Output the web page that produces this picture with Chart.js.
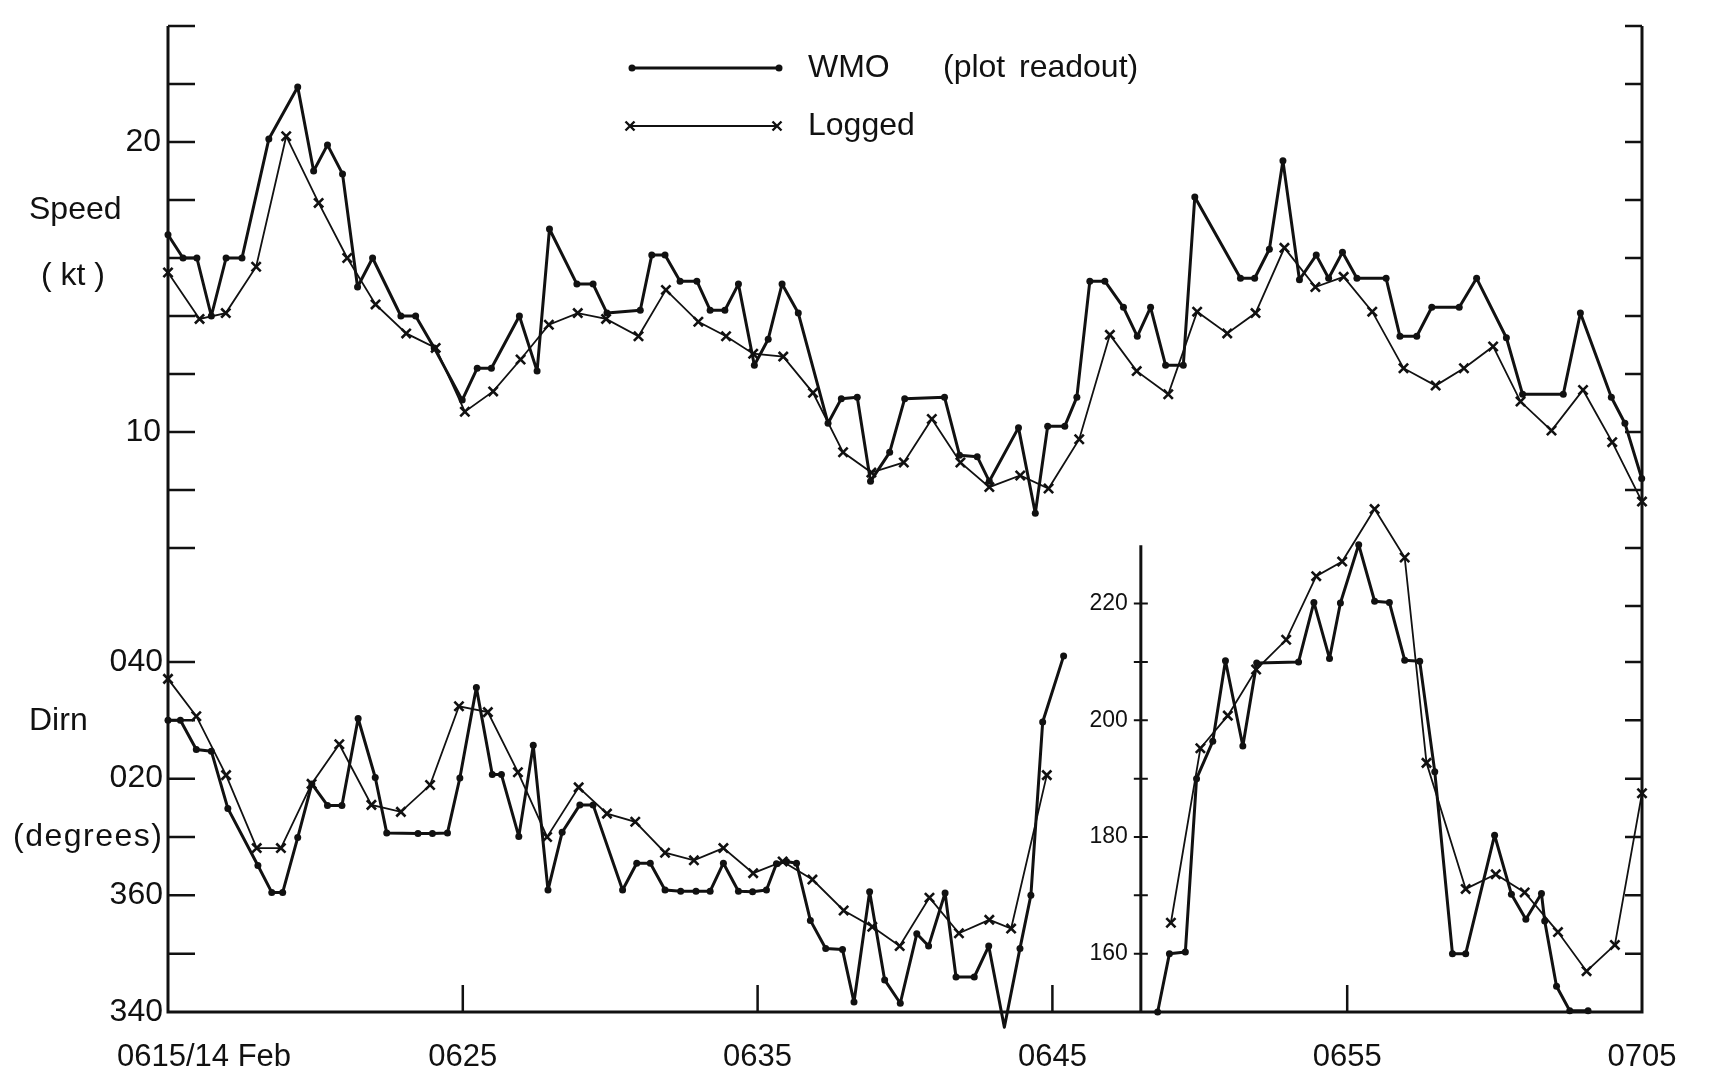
<!DOCTYPE html>
<html>
<head>
<meta charset="utf-8">
<title>Wind speed and direction, WMO readout vs logged</title>
<script src="https://cdn.jsdelivr.net/npm/chart.js@4.4.1/dist/chart.umd.min.js"></script>
<style>
  html, body { margin: 0; padding: 0; background: #fff; overflow: hidden; }
  canvas { display: block; }
</style>
</head>
<body>
<canvas id="windChart" width="1709" height="1086"></canvas>
<script>
// times are minutes after 0615 (14 Feb)
const wmoSpeedTime = [0, 0.51, 0.98, 1.47, 1.97, 2.51, 3.42, 4.4, 4.94, 5.41, 5.92, 6.43, 6.94, 7.9, 8.4, 9.03, 9.98,
  10.49, 10.97, 11.92, 12.52, 12.94, 13.87, 14.42, 14.89, 16.02, 16.41, 16.86, 17.37, 17.94, 18.39, 18.89, 19.35, 19.89,
  20.36, 20.83, 21.38, 22.39, 22.84, 23.38, 23.83, 24.48, 24.99, 26.34, 26.85, 27.45, 27.86, 28.85, 29.42, 29.84,
  30.42, 30.83, 31.27, 31.78, 32.41, 32.88, 33.33, 33.84, 34.44, 34.83, 36.38, 36.86, 37.36, 37.82, 38.38, 38.95,
  39.37, 39.84, 40.33, 41.32, 41.79, 42.36, 42.87, 43.8, 44.39, 45.4, 45.95, 47.33, 47.91, 48.96, 49.42, 49.99];
const wmoSpeed = [16.8, 16.0, 16.0, 14.0, 16.0, 16.0, 20.1, 21.9, 19.0, 19.9, 18.9, 15.0, 16.0, 14.0, 14.0, 12.9, 11.1,
  12.2, 12.2, 14.0, 12.1, 17.0, 15.1, 15.1, 14.1, 14.2, 16.1, 16.1, 15.2, 15.2, 14.2, 14.2, 15.1, 12.3,
  13.2, 15.1, 14.1, 10.3, 11.15, 11.2, 8.3, 9.3, 11.15, 11.2, 9.2, 9.15, 8.3, 10.15, 7.2, 10.2,
  10.2, 11.2, 15.2, 15.2, 14.3, 13.3, 14.3, 12.3, 12.3, 18.1, 15.3, 15.3, 16.3, 19.35, 15.25, 16.1,
  15.3, 16.2, 15.3, 15.3, 13.3, 13.3, 14.3, 14.3, 15.3, 13.25, 11.3, 11.3, 14.1, 11.2, 10.3, 8.4];

const loggedSpeedTime = [0, 1.07, 1.96, 2.99, 4.01, 5.11, 6.08, 7.04, 8.08, 9.08, 10.07, 11.03, 11.96, 12.92, 13.9,
  14.86, 15.96, 16.89, 17.99, 18.93, 19.85, 20.87, 21.88, 22.9, 23.86, 24.96, 25.91, 26.88, 27.86, 28.91, 29.87,
  30.91, 31.95, 32.86, 33.93, 34.91, 35.93, 36.89, 37.87, 38.92, 39.88, 40.85, 41.91, 43.0, 43.96, 44.95, 45.88,
  46.93, 48.0, 48.99, 50.0];
const loggedSpeed = [15.5, 13.9, 14.1, 15.7, 20.2, 17.9, 16.0, 14.4, 13.4, 12.9, 10.7, 11.4, 12.5, 13.7, 14.1,
  13.9, 13.3, 14.9, 13.8, 13.3, 12.7, 12.6, 11.35, 9.3, 8.6, 8.95, 10.45, 8.95, 8.1, 8.5, 8.05,
  9.75, 13.35, 12.1, 11.3, 14.15, 13.4, 14.1, 16.35, 15.0, 15.35, 14.15, 12.2, 11.6, 12.2, 12.95, 11.05,
  10.05, 11.45, 9.65, 7.6];

// direction, degrees true, 0615 - 0645 (main scale 340 - 040)
const wmoDirTime = [0, 0.42, 0.96, 1.47, 2.03, 3.05, 3.52, 3.89, 4.4, 4.88, 5.41, 5.9, 6.45, 7.03, 7.42, 8.48, 8.97,
  9.48, 9.9, 10.46, 11.0, 11.31, 11.9, 12.39, 12.89, 13.37, 13.97, 14.42, 15.42, 15.9, 16.36, 16.86, 17.39, 17.91,
  18.39, 18.84, 19.35, 19.83, 20.3, 20.64, 20.98, 21.32, 21.79, 22.31, 22.88, 23.27, 23.8, 24.31, 24.84, 25.4,
  25.8, 26.36, 26.73, 27.35, 27.84, 28.37, 28.9, 29.27, 29.67, 30.38];
const wmoDir = [30, 30, 25, 24.7, 14.9, 5.1, 0.5, 0.5, 9.9, 19.1, 15.4, 15.4, 30.3, 20.2, 10.7, 10.6, 10.6,
  10.7, 20.1, 35.6, 20.7, 20.7, 10.1, 25.7, 0.9, 10.8, 15.5, 15.5, 0.9, 5.5, 5.5, 0.9, 0.7, 0.7,
  0.7, 5.5, 0.7, 0.6, 0.9, 5.4, 5.8, 5.5, 355.7, 350.9, 350.7, 341.7, 0.6, 345.5, 341.5, 353.4,
  351.3, 0.4, 346, 346, 351.3, 337.4, 350.9, 0, 29.7, 41];

const loggedDirTime = [0, 0.96, 1.97, 3.01, 3.83, 4.87, 5.81, 6.9, 7.9, 8.89, 9.87, 10.85, 11.87, 12.86, 13.93,
  14.89, 15.85, 16.86, 17.84, 18.84, 19.85, 20.85, 21.86, 22.92, 23.89, 24.82, 25.83, 26.83, 27.86, 28.6, 29.81];
const loggedDir = [37.1, 30.7, 20.6, 8.1, 8.1, 19.1, 25.9, 15.5, 14.3, 18.9, 32.4, 31.4, 21.1, 10.0, 18.5,
  14.0, 12.6, 7.3, 6.0, 8.1, 3.8, 5.8, 2.7, 357.4, 354.6, 351.3, 359.6, 353.5, 355.8, 354.3, 20.6];

// direction after the veer, inset scale 150 - 230
const wmoDirLateTime = [33.57, 33.97, 34.51, 34.89, 35.44, 35.87, 36.46, 36.93, 38.35, 38.87, 39.4, 39.77, 40.39,
  40.93, 41.43, 41.95, 42.46, 42.97, 43.57, 44.02, 45.0, 45.57, 46.06, 46.59, 46.7, 47.1, 47.55, 48.17];
const wmoDirLate = [150, 160, 160.3, 190, 196.4, 210.2, 195.6, 209.8, 210, 220.2, 210.6, 220.1, 230.1,
  220.4, 220.2, 210.3, 210.1, 191.2, 160, 160, 180.3, 170.2, 165.9, 170.3, 165.6, 154.4, 150.2, 150.2];

const loggedDirLateTime = [34.02, 35.02, 35.95, 36.91, 37.93, 38.95, 39.83, 40.93, 41.95, 42.69, 44.02, 45.04,
  46.02, 47.15, 48.12, 49.08, 50.0];
const loggedDirLate = [165.3, 195.2, 200.8, 208.7, 213.8, 224.7, 227.2, 236.2, 227.9, 192.7, 171.1, 173.6,
  170.5, 163.7, 157.0, 161.5, 187.5];

// axis ticks and labels
const timeTicks = [0, 10, 20, 30, 40, 50];
const timeLabels = ['0615/14 Feb', '0625', '0635', '0645', '0655', '0705'];
const speedTicks = [24, 22, 20, 18, 16, 14, 12, 10, 8, 6];
const speedLabelTicks = [20, 10];
const speedLabels = ['20', '10'];
const dirTicks = [40, 30, 20, 10, 0, -10];
const dirLabelTicks = [40, 20, 0, -20];
const dirLabels = ['040', '020', '360', '340'];
const rightSpeedTicks = [24, 22, 20, 18, 16, 14, 12, 10, 8, 6, 4];
const insetAxisTime = 33;
const insetTicks = [160, 170, 180, 190, 200, 210, 220];
const insetLabelTicks = [220, 200, 180, 160];
const insetLabels = ['220', '200', '180', '160'];

const ink = '#111';
const face = '"Liberation Sans", Arial, Helvetica, sans-serif';

// 340..040 shown as -20..40 on the main direction scale
const signedDir = d => (d > 180 ? d - 360 : d);
const toPoints = (times, values, f) => times.map((t, i) => ({ x: t, y: f ? f(values[i]) : values[i] }));

function wmoSet(data, axis) {
  return {
    data: data, yAxisID: axis, borderColor: ink, borderWidth: 3, borderJoinStyle: 'round',
    pointStyle: 'circle', pointRadius: 3.5, pointBackgroundColor: ink, pointBorderWidth: 0,
    tension: 0, clip: false
  };
}
function loggedSet(data, axis) {
  return {
    data: data, yAxisID: axis, borderColor: ink, borderWidth: 1.8,
    pointStyle: 'crossRot', pointRadius: 6.5, pointBorderColor: ink, pointBorderWidth: 2.6,
    tension: 0, clip: false
  };
}

// axes, ticks, titles and legend drawn like the paper original
const paperAxes = {
  id: 'paperAxes',
  afterDraw(chart) {
    const { ctx, chartArea: area, scales } = chart;
    const sx = scales.x, sp = scales.ySpeed, sd = scales.yDir, si = scales.yInset;
    ctx.save();
    ctx.strokeStyle = ink;
    ctx.fillStyle = ink;

    ctx.lineWidth = 3;
    ctx.beginPath();
    ctx.moveTo(area.left, area.top);
    ctx.lineTo(area.left, area.bottom);
    ctx.lineTo(area.right, area.bottom);
    ctx.lineTo(area.right, area.top);
    ctx.stroke();

    ctx.lineWidth = 2.5;
    ctx.beginPath();
    const leftYs = speedTicks.map(v => sp.getPixelForValue(v)).concat(dirTicks.map(v => sd.getPixelForValue(v)));
    leftYs.forEach(y => { ctx.moveTo(area.left, y); ctx.lineTo(area.left + 27, y); });
    const rightYs = rightSpeedTicks.map(v => sp.getPixelForValue(v)).concat(dirTicks.map(v => sd.getPixelForValue(v)));
    rightYs.forEach(y => { ctx.moveTo(area.right, y); ctx.lineTo(area.right - 17, y); });
    timeTicks.slice(1, -1).forEach(t => {
      const x = sx.getPixelForValue(t);
      ctx.moveTo(x, area.bottom); ctx.lineTo(x, area.bottom - 27);
    });
    ctx.stroke();

    // inset axis for the veered direction
    const ix = sx.getPixelForValue(insetAxisTime);
    ctx.lineWidth = 3;
    ctx.beginPath();
    ctx.moveTo(ix, area.bottom);
    ctx.lineTo(ix, si.getPixelForValue(230));
    ctx.stroke();
    ctx.lineWidth = 2;
    ctx.beginPath();
    insetTicks.forEach(v => {
      const y = si.getPixelForValue(v);
      ctx.moveTo(ix - 7, y); ctx.lineTo(ix + 7, y);
    });
    ctx.stroke();

    ctx.textBaseline = 'middle';
    ctx.font = '32px ' + face;
    ctx.textAlign = 'right';
    speedLabelTicks.forEach((v, i) => ctx.fillText(speedLabels[i], area.left - 7, sp.getPixelForValue(v)));
    dirLabelTicks.forEach((v, i) => ctx.fillText(dirLabels[i], area.left - 5, sd.getPixelForValue(v)));

    ctx.font = '23px ' + face;
    insetLabelTicks.forEach((v, i) => ctx.fillText(insetLabels[i], ix - 13, si.getPixelForValue(v)));

    ctx.font = '31px ' + face;
    ctx.textAlign = 'left';
    ctx.fillText(timeLabels[0], 117, 1057);
    ctx.textAlign = 'center';
    timeTicks.slice(1).forEach((t, i) => ctx.fillText(timeLabels[i + 1], sx.getPixelForValue(t), 1057));

    ctx.font = '32px ' + face;
    ctx.textAlign = 'left';
    ctx.fillText('Speed', 29, 210);
    ctx.fillText('( kt )', 41, 276);
    ctx.fillText('Dirn', 29, 721);
    ctx.letterSpacing = '1.5px';
    ctx.fillText('(degrees)', 13, 837);
    ctx.letterSpacing = '0px';

    // legend
    ctx.lineWidth = 3;
    ctx.beginPath(); ctx.moveTo(632, 68); ctx.lineTo(779, 68); ctx.stroke();
    [632, 779].forEach(x => { ctx.beginPath(); ctx.arc(x, 68, 3.5, 0, Math.PI * 2); ctx.fill(); });
    ctx.lineWidth = 1.8;
    ctx.beginPath(); ctx.moveTo(630, 126); ctx.lineTo(777, 126); ctx.stroke();
    ctx.lineWidth = 2.4;
    [630, 777].forEach(x => {
      ctx.beginPath();
      ctx.moveTo(x - 4.5, 121.5); ctx.lineTo(x + 4.5, 130.5);
      ctx.moveTo(x + 4.5, 121.5); ctx.lineTo(x - 4.5, 130.5);
      ctx.stroke();
    });
    ctx.font = '32px ' + face;
    ctx.fillText('WMO', 808, 68);
    ctx.fillText('(plot', 943, 68);
    ctx.fillText('readout)', 1019, 68);
    ctx.fillText('Logged', 808, 126);
    ctx.restore();
  }
};

const windChart = new Chart(document.getElementById('windChart'), {
  type: 'line',
  data: {
    datasets: [
      wmoSet(toPoints(wmoSpeedTime, wmoSpeed), 'ySpeed'),
      loggedSet(toPoints(loggedSpeedTime, loggedSpeed), 'ySpeed'),
      wmoSet(toPoints(wmoDirTime, wmoDir, signedDir), 'yDir'),
      loggedSet(toPoints(loggedDirTime, loggedDir, signedDir), 'yDir'),
      wmoSet(toPoints(wmoDirLateTime, wmoDirLate), 'yInset'),
      loggedSet(toPoints(loggedDirLateTime, loggedDirLate), 'yInset')
    ]
  },
  options: {
    responsive: false,
    animation: false,
    layout: { padding: { left: 168, right: 67, top: 26, bottom: 74 } },
    plugins: { legend: { display: false }, tooltip: { enabled: false } },
    scales: {
      x: { type: 'linear', min: 0, max: 50, display: false },
      ySpeed: { type: 'linear', min: -10, max: 24, display: false },
      yDir: { type: 'linear', min: -20, max: 149, display: false },
      yInset: { type: 'linear', min: 150, max: 319, display: false }
    }
  },
  plugins: [paperAxes]
});
</script>
</body>
</html>
